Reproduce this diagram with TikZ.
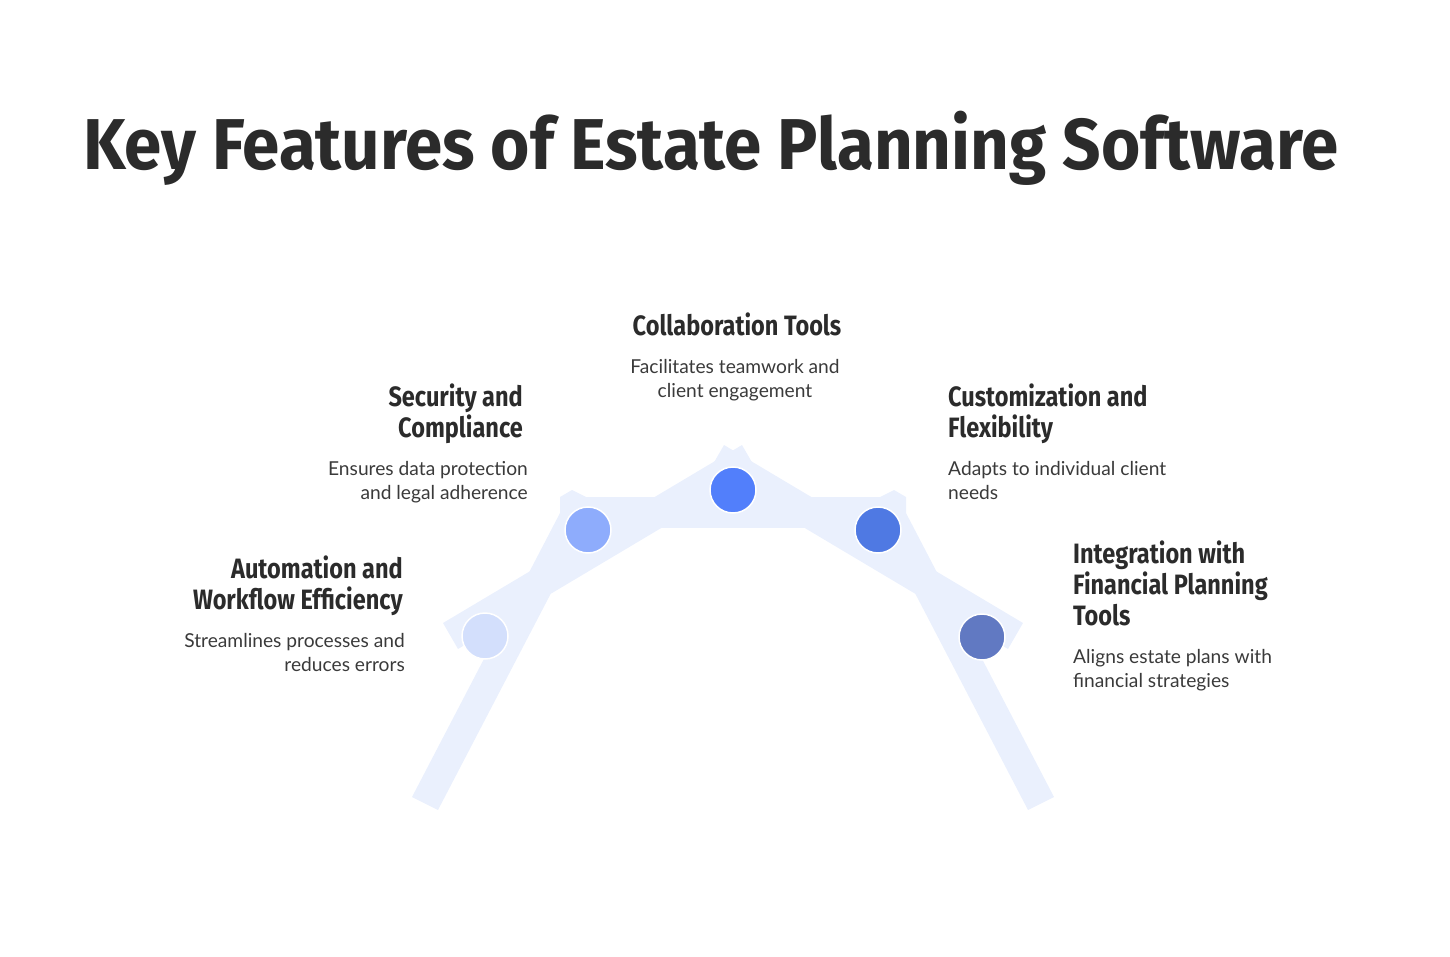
\documentclass[tikz,border=0pt]{standalone}
\usepackage{fontspec}
\setmainfont{Lato}
\newfontfamily\headfont{Fira Sans}[FakeStretch=0.84]
\newfontfamily\titlefont{Fira Sans}[FakeStretch=0.935]
\usetikzlibrary{positioning}
\definecolor{inkgrey}{HTML}{2B2B2B}
\definecolor{bodygrey}{HTML}{3A3A3A}
\definecolor{archblue}{HTML}{EAF0FD}
\definecolor{dotone}{HTML}{D3DFFC}
\definecolor{dottwo}{HTML}{8EACFC}
\definecolor{dotthree}{HTML}{527FFB}
\definecolor{dotfour}{HTML}{4F79E3}
\definecolor{dotfive}{HTML}{6179C2}

\begin{document}
\begin{tikzpicture}[x=1pt,y=-1pt,
  feathead/.style={font=\headfont\bfseries\fontsize{28}{31}\selectfont, text=inkgrey, inner sep=0pt},
  featdesc/.style={font=\fontsize{19.2}{23.5}\selectfont, text=bodygrey, inner sep=0pt},
  dot/.style={circle, minimum size=46pt, draw=white, line width=1.5pt, inner sep=0pt}]
  \useasboundingbox (0,0) rectangle (1450,957);
  % Title
  \node[anchor=base west, inner sep=0pt, text=inkgrey,
        font=\titlefont\bfseries\fontsize{72}{80}\selectfont] (title) at (83,170)
        {Key Features of Estate Planning Software};
  % Arch bands
  \fill[archblue] (412,797) -- (560,513) -- (560,497) -- (572,490) -- (598,503) -- (438,810) -- cycle;
  \fill[archblue] (1054,797) -- (906,513) -- (906,497) -- (894,490) -- (868,503) -- (1028,810) -- cycle;
  \fill[archblue] (560,497) rectangle (906,528);
  \fill[archblue] (443,623) -- (742,445) -- (757,471) -- (458,649) -- cycle;
  \fill[archblue] (1023,623) -- (724,445) -- (709,471) -- (1008,649) -- cycle;
  % Dots
  \node[dot, fill=dotone] (c1) at (485,636) {};
  \node[dot, fill=dottwo] (c2) at (588,530) {};
  \node[dot, fill=dotthree] (c3) at (733,490) {};
  \node[dot, fill=dotfour] (c4) at (878,530) {};
  \node[dot, fill=dotfive] (c5) at (982,637) {};
  % Left side labels (base = last line)
  \node[feathead, anchor=base east, align=right] (h1) at (403,609) {Automation and\\Workflow Efficiency};
  \node[featdesc, anchor=base east, align=right] (d1) at (405,671) {Streamlines processes and\\reduces errors};
  \node[feathead, anchor=base east, align=right] (h2) at (523,437) {Security and\\Compliance};
  \node[featdesc, anchor=base east, align=right] (d2) at (528,499) {Ensures data protection\\and legal adherence};
  % Top label
  \node[feathead, anchor=base] (h3) at (737,335) {Collaboration Tools};
  \node[featdesc, anchor=base, align=center] (d3) at (735,397) {Facilitates teamwork and\\client engagement};
  % Right side labels
  \node[feathead, anchor=base west, align=left] (h4) at (948,437) {Customization and\\Flexibility};
  \node[featdesc, anchor=base west, align=left] (d4) at (948,499) {Adapts to individual client\\needs};
  \node[feathead, anchor=base west, align=left] (h5) at (1073,625) {Integration with\\Financial Planning\\Tools};
  \node[featdesc, anchor=base west, align=left] (d5) at (1073,687) {Aligns estate plans with\\financial strategies};
\end{tikzpicture}
\end{document}
